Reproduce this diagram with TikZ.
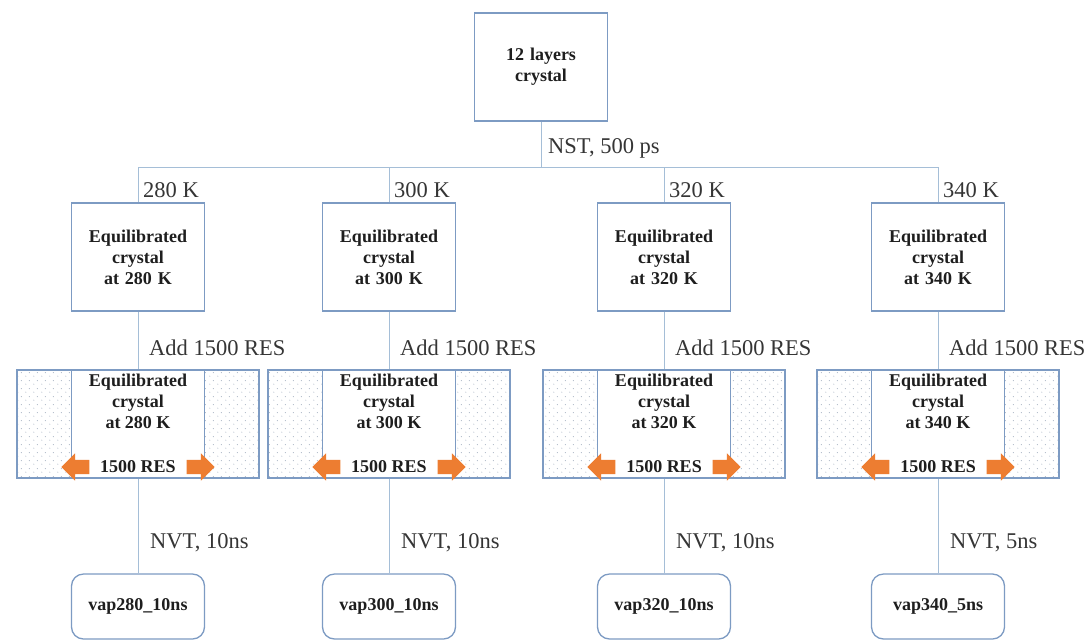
\documentclass[tikz,border=0pt]{standalone}
\usepackage{fontspec}
\setmainfont{Liberation Serif}
\usetikzlibrary{shapes.arrows,patterns.meta}
\definecolor{boxc}{RGB}{125,155,195}
\definecolor{linec}{RGB}{165,190,215}
\definecolor{txtc}{RGB}{30,30,30}
\definecolor{orangec}{RGB}{237,125,49}
\definecolor{dotc}{RGB}{175,185,200}
\newcommand\boldtxt{\fontsize{18}{21}\selectfont\bfseries}
\newcommand\lbltxt{\fontsize{22.5}{25}\selectfont}
\tikzdeclarepattern{
  name=sparsedots,
  type=uncolored,
  bounding box={(0pt,0pt) and (8pt,8pt)},
  tile size={(8pt,8pt)},
  code={
    \fill (2pt,2pt) circle (0.6pt);
    \fill (6pt,6pt) circle (0.6pt);
  }
}
\begin{document}
\begin{tikzpicture}[x=1pt,y=-1pt,
  box/.style={draw=boxc, line width=1.3pt, fill=white, minimum width=133pt,
    text width=128pt, align=center, font=\boldtxt, inner sep=0pt, text=txtc},
  hatchbox/.style={draw=boxc, line width=1.3pt, pattern={sparsedots},
    pattern color=dotc, minimum width=242pt, minimum height=108pt, inner sep=0pt},
  btxt/.style={align=center, font=\boldtxt, text=txtc, inner sep=0pt},
  lbl/.style={anchor=west, font=\lbltxt, text=txtc!90, inner sep=0pt},
  conn/.style={draw=linec, line width=1pt},
  orarrow/.style={single arrow, fill=orangec, draw=none, minimum height=28pt,
    minimum width=27pt, single arrow head extend=6.5pt, inner xsep=0pt, inner ysep=7pt}
]
\useasboundingbox (0,0) rectangle (1086,641);

\node[box, minimum height=108pt] (top) at (541,67) {12 layers\\crystal};
\coordinate (hb) at (541,167);
\coordinate (hl) at (138,167);
\coordinate (hr) at (938,167);
\draw[conn] (top.south) -- (hb);
\draw[conn] (hl) -- (hr);
\node[lbl] (nst) at (548,148) {NST, 500 ps};

\foreach \i/\cx/\T/\ns in {1/138/280/10,2/389/300/10,3/664/320/10,4/938/340/5}{
  \node[box, minimum height=108pt] (eq\i) at (\cx,257) {Equilibrated\\crystal\\at \T\ K};
  \node[hatchbox] (h\i) at (\cx,424) {};
  \node[box, minimum height=108pt] (in\i) at (\cx,424) {};
  \node[orarrow, shape border rotate=180] (la\i) at (\cx-59,467) {};
  \node[orarrow] (ra\i) at (\cx+59,467) {};
  \node[btxt] (t\i) at (\cx,401) {Equilibrated\\crystal\\at \T\ K};
  \node[btxt] (r\i) at (\cx,467) {1500 RES};
  \node[box, rounded corners=12pt, minimum height=65pt] (v\i) at (\cx,606.5) {vap\T\_\ns ns};
  \draw[conn] (eq\i.north |- hl) -- (eq\i.north);
  \draw[conn] (eq\i.south) -- (h\i.north);
  \draw[conn] (h\i.south) -- (v\i.north);
  \node[lbl] (k\i) at (\cx+5,190) {\T\ K};
  \node[lbl] (a\i) at (\cx+11,348) {Add 1500 RES};
  \node[lbl] (n\i) at (\cx+12,543) {NVT, \ns ns};
}
\end{tikzpicture}
\end{document}
